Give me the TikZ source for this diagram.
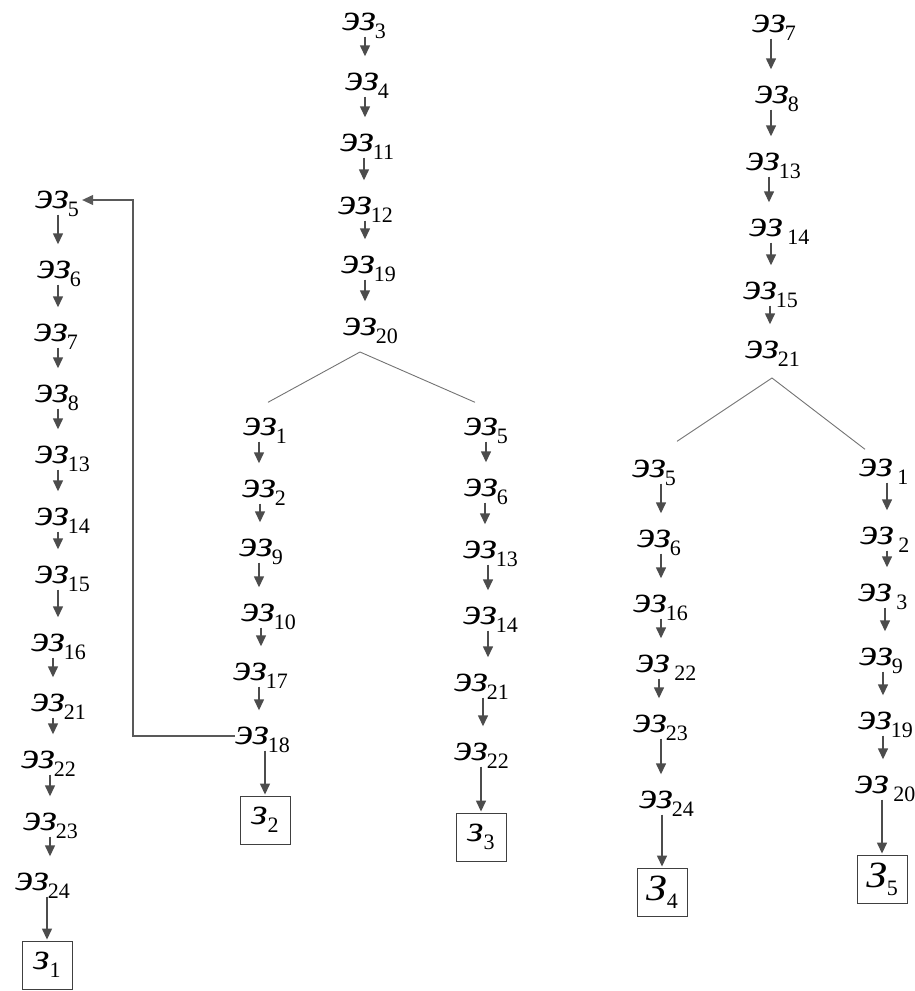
\documentclass[tikz,border=0pt]{standalone}
\usepackage{fontspec}
\setmainfont{Liberation Serif}
\newfontfamily\ezfont{Liberation Serif}[FakeStretch=1.12]
\usetikzlibrary{arrows.meta}

\newcommand{\subsz}{\fontsize{22}{22}\selectfont\upshape}
\newcommand{\ez}[1]{{\ezfont\itshape эз}\rlap{\kern-1pt\raisebox{-8pt}{\subsz #1}}}
\newcommand{\zz}[2]{{\ezfont\itshape #1}\raisebox{-8pt}{\subsz #2}}

\begin{document}
\begin{tikzpicture}[x=1pt,y=-1pt,font=\fontsize{37}{40}\selectfont,
    ez/.style={inner sep=0pt,text height=17pt,text depth=0pt},
    zbox/.style={draw=black!75,line width=0.9pt,minimum width=50pt,minimum height=48pt,inner sep=0pt},
    arr/.style={-{Triangle[length=11pt,width=10pt]},draw=black!70,line width=1.4pt,shorten <=6pt,shorten >=17pt},
    tobox/.style={arr,shorten >=1pt},
    fork/.style={draw=black!55,line width=0.9pt},
    backline/.style={-{Triangle[length=11pt,width=10pt]},draw=black!65,line width=1.1pt}]
\useasboundingbox (0,0) rectangle (915,991);

% left column
\foreach \n/\x/\y/\ax [count=\i] in {5/52/200/58,6/54/270/58,7/51/333/58,8/52/394/58,
        13/52/455/58,14/52/517/58,15/52/575/58,16/48/643/53,21/48/703/53,
        22/38/760/50,23/40/822/50,24/32/882/47}{
    \node[ez] (a\i) at (\x,\y) {\ez{\n}};
    \coordinate (a\i-x) at (\ax,\y);
}
\foreach \i [remember=\i as \j (initially 1)] in {2,...,12}
    \draw[arr] (a\j-x |- a\j.south) -- (a\j-x |- a\i.north);
\node[zbox] (z1) at (47,965) {\zz{з}{1}};
\draw[tobox] (z1 |- a12.south) -- (z1.north);

% middle, top
\foreach \n/\x/\y/\ax [count=\i] in {3/359/22/365,4/362/82/365,11/357/143/364,
        12/355/206/365,19/358/265/365,20/360/327/365}{
    \node[ez] (b\i) at (\x,\y) {\ez{\n}};
    \coordinate (b\i-x) at (\ax,\y);
}
\foreach \i [remember=\i as \j (initially 1)] in {2,...,6}
    \draw[arr] (b\j-x |- b\j.south) -- (b\j-x |- b\i.north);
\coordinate (forkB) at (360,352);

% middle, left branch
\foreach \n/\x/\y/\ax [count=\i] in {1/260/427/259,2/259/489/260,9/256/548/259,
        10/258/613/261,17/250/672/259,18/252/736/264}{
    \node[ez] (c\i) at (\x,\y) {\ez{\n}};
    \coordinate (c\i-x) at (\ax,\y);
}
\foreach \i [remember=\i as \j (initially 1)] in {2,...,6}
    \draw[arr] (c\j-x |- c\j.south) -- (c\j-x |- c\i.north);
\node[zbox] (z2) at (265,820) {\zz{з}{2}};
\draw[tobox] (z2 |- c6.south) -- (z2.north);

% middle, right branch
\foreach \n/\x/\y/\ax [count=\i] in {5/481/427/486,6/481/488/485,13/480/550/488,
        14/480/616/488,21/471/683/483,22/471/752/481}{
    \node[ez] (d\i) at (\x,\y) {\ez{\n}};
    \coordinate (d\i-x) at (\ax,\y);
}
\foreach \i [remember=\i as \j (initially 1)] in {2,...,6}
    \draw[arr] (d\j-x |- d\j.south) -- (d\j-x |- d\i.north);
\node[zbox] (z3) at (481,837) {\zz{з}{3}};
\draw[tobox] (z3 |- d6.south) -- (z3.north);

\draw[fork] ([shift={(8pt,16pt)}]c1.north) -- (forkB) -- ([shift={(-6pt,16pt)}]d1.north);
\coordinate (back) at (133,200);
\draw[backline] (c6.west) -| (back) -- ([xshift=13pt]a1.east);

% right, top
\foreach \n/\x/\y/\ax [count=\i] in {7/769/24/771,8/772/95/771,13/763/162/769,
        ~14/766/228/771,15/760/291/770,21/762/350/770}{
    \node[ez] (e\i) at (\x,\y) {\ez{\n}};
    \coordinate (e\i-x) at (\ax,\y);
}
\foreach \i [remember=\i as \j (initially 1)] in {2,...,6}
    \draw[arr] (e\j-x |- e\j.south) -- (e\j-x |- e\i.north);
\coordinate (forkE) at (772,378);

% right, left branch
\foreach \n/\x/\y/\ax [count=\i] in {5/649/469/661,6/654/539/661,16/650/604/661,
        ~22/653/664/659,23/650/724/661,24/656/800/662}{
    \node[ez] (f\i) at (\x,\y) {\ez{\n}};
    \coordinate (f\i-x) at (\ax,\y);
}
\foreach \i [remember=\i as \j (initially 1)] in {2,...,6}
    \draw[arr] (f\j-x |- f\j.south) -- (f\j-x |- f\i.north);
\node[zbox] (z4) at (662,892) {\zz{З}{4}};
\draw[tobox] (z4 |- f6.south) -- (z4.north);

% right, right branch
\foreach \n/\x/\y/\ax [count=\i] in {~1/876/468/887,~2/877/536/887,~3/875/593/885,
        9/876/657/883,19/875/721/883,~20/872/785/883}{
    \node[ez] (g\i) at (\x,\y) {\ez{\n}};
    \coordinate (g\i-x) at (\ax,\y);
}
\foreach \i [remember=\i as \j (initially 1)] in {2,...,6}
    \draw[arr] (g\j-x |- g\j.south) -- (g\j-x |- g\i.north);
\node[zbox] (z5) at (882,879) {\zz{З}{5}};
\draw[tobox] (z5 |- g6.south) -- (z5.north);

\draw[fork] ([shift={(28pt,19pt)}]f1.north) -- (forkE) -- ([shift={(-11pt,10pt)}]g1.north);
\end{tikzpicture}
\end{document}
